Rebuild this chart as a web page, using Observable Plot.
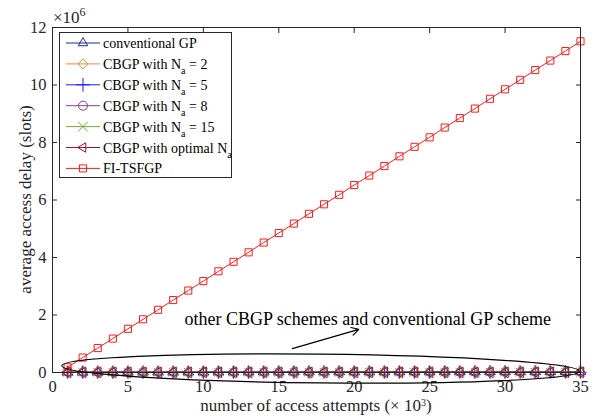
<!DOCTYPE html>
<html>
<head>
<meta charset="utf-8">
<script src="https://cdn.jsdelivr.net/npm/d3@7"></script>
<script src="https://cdn.jsdelivr.net/npm/@observablehq/plot@0.6"></script>
<style>
  body { margin: 0; background: #fff; }
  #chart svg { display: block; }
</style>
</head>
<body>
<div id="chart"></div>
<script>
// number of access attempts (× 10^3)
const attempts = [1, 2, 3, 4, 5, 6, 7, 8, 9, 10, 11, 12, 13, 14, 15, 16, 17, 18, 19, 20,
  21, 22, 23, 24, 25, 26, 27, 28, 29, 30, 31, 32, 33, 34, 35];

// average access delay (slots) per scheme
const conventionalGP = [15200, 15900, 16500, 17100, 17600, 18200, 18700, 19300, 19800, 20300,
  20900, 21400, 21900, 22500, 23000, 23500, 24100, 24600, 25100, 25700, 26200, 26700, 27300,
  27800, 28300, 28900, 29400, 29900, 30500, 31000, 31500, 32100, 32600, 33100, 33700];
const cbgpNa2 = [9100, 9200, 9300, 9350, 9400, 9500, 9550, 9600, 9700, 9750, 9800, 9900, 9950,
  10000, 10100, 10150, 10200, 10300, 10350, 10400, 10500, 10550, 10600, 10700, 10750, 10800,
  10900, 10950, 11000, 11100, 11150, 11200, 11300, 11350, 11400];
const cbgpNa5 = [6400, 6450, 6500, 6550, 6600, 6650, 6700, 6750, 6800, 6850, 6900, 6950, 7000,
  7050, 7100, 7150, 7200, 7250, 7300, 7350, 7400, 7450, 7500, 7550, 7600, 7650, 7700, 7750,
  7800, 7850, 7900, 7950, 8000, 8050, 8100];
const cbgpNa8 = [6100, 6150, 6200, 6250, 6300, 6350, 6400, 6450, 6500, 6550, 6600, 6650, 6700,
  6750, 6800, 6850, 6900, 6950, 7000, 7050, 7100, 7150, 7200, 7250, 7300, 7350, 7400, 7450,
  7500, 7550, 7600, 7650, 7700, 7750, 7800];
const cbgpNa15 = [7000, 7100, 7200, 7300, 7400, 7500, 7600, 7700, 7800, 7900, 8000, 8100, 8200,
  8300, 8400, 8500, 8600, 8700, 8800, 8900, 9000, 9100, 9200, 9300, 9400, 9500, 9600, 9700,
  9800, 9900, 10000, 10100, 10200, 10300, 10400];
const cbgpOptimal = [5600, 5620, 5640, 5660, 5680, 5700, 5720, 5740, 5760, 5780, 5800, 5820,
  5840, 5860, 5880, 5900, 5920, 5940, 5960, 5980, 6000, 6020, 6040, 6060, 6080, 6100, 6120,
  6140, 6160, 6180, 6200, 6220, 6240, 6260, 6280];
const fiTsfgp = [180000, 520000, 850000, 1180000, 1520000, 1850000, 2180000, 2520000, 2850000,
  3180000, 3520000, 3850000, 4180000, 4520000, 4850000, 5180000, 5520000, 5850000, 6180000,
  6520000, 6850000, 7180000, 7520000, 7850000, 8180000, 8520000, 8850000, 9180000, 9520000,
  9850000, 10180000, 10520000, 10850000, 11180000, 11520000];

const xTicks = [0, 5, 10, 15, 20, 25, 30, 35];
const yTicks = [0, 2e6, 4e6, 6e6, 8e6, 10e6, 12e6];

// annotation pointing at the cluster near zero
const noteLabel = "other CBGP schemes and conventional GP scheme";
const noteAt = {x: 20.9, y: 1.84e6};
const arrowFrom = {x: 15.9, y: 0.83e6};
const arrowTo = {x: 20.3, y: 1.5e6};
const ringCenter = {x: 17.8, y: 0.12e6};
const ringRadius = {x: 17.15, y: 0.5e6};

const series = [
  {name: "conventional GP", sub: null, values: conventionalGP, color: "#1d2d8c", symbol: "triangle", rotate: 0},
  {name: "CBGP with N", sub: "a", tail: " = 2", values: cbgpNa2, color: "#e8902c", symbol: "diamond", rotate: 0},
  {name: "CBGP with N", sub: "a", tail: " = 5", values: cbgpNa5, color: "#1a1aff", symbol: "plus", rotate: 0},
  {name: "CBGP with N", sub: "a", tail: " = 8", values: cbgpNa8, color: "#8a3f9c", symbol: "circle", rotate: 0},
  {name: "CBGP with N", sub: "a", tail: " = 15", values: cbgpNa15, color: "#77ac30", symbol: "times", rotate: 0},
  {name: "CBGP with optimal N", sub: "a", tail: "", values: cbgpOptimal, color: "#a2142f", symbol: "triangle", rotate: -90},
  {name: "FI-TSFGP", sub: null, values: fiTsfgp, color: "#ff1a1a", symbol: "square", rotate: 0}
];

const rowsOf = s => attempts.map((a, i) => ({attempts: a, delay: s.values[i]}));
const ink = "#262626";
const serif = "'Liberation Serif', 'DejaVu Serif', serif";

const marks = [];
for (const s of series) {
  const rows = rowsOf(s);
  marks.push(Plot.line(rows, {x: "attempts", y: "delay", stroke: s.color, strokeWidth: 1}));
  marks.push(Plot.dot(rows, {x: "attempts", y: "delay", symbol: () => s.symbol, stroke: s.color,
    fill: "none", r: 4, strokeWidth: 1, rotate: s.rotate}));
}

const plot = Plot.plot({
  width: 597,
  height: 416,
  marginLeft: 52,
  marginRight: 17,
  marginTop: 27,
  marginBottom: 44,
  style: {fontFamily: serif, fontSize: "16.5px", color: ink, background: "#fff"},
  x: {domain: [0, 35]},
  y: {domain: [0, 12e6]},
  symbol: {type: "identity"},
  marks: [
    // tick labels
    Plot.axisX(xTicks, {anchor: "bottom", tickSize: 0, tickPadding: 8, label: null, fill: ink}),
    Plot.axisY(yTicks, {anchor: "left", tickSize: 0, tickPadding: 6, tickFormat: d => d / 1e6, label: null, fill: ink}),
    // inward ticks on all four sides
    Plot.axisX(xTicks, {anchor: "bottom", tickSize: -5, tickFormat: () => "", label: null, stroke: ink}),
    Plot.axisX(xTicks, {anchor: "top", tickSize: -5, tickFormat: () => "", label: null, stroke: ink}),
    Plot.axisY(yTicks, {anchor: "left", tickSize: -5, tickFormat: () => "", label: null, stroke: ink}),
    Plot.axisY(yTicks, {anchor: "right", tickSize: -5, tickFormat: () => "", label: null, stroke: ink}),
    ...marks,
    Plot.arrow([{}], {x1: () => arrowFrom.x, y1: () => arrowFrom.y, x2: () => arrowTo.x, y2: () => arrowTo.y,
      stroke: "#000", strokeWidth: 1.2, headLength: 10}),
    Plot.text([noteLabel], {x: () => noteAt.x, y: () => noteAt.y, text: d => d, fontSize: 18, fill: "#000"}),
    Plot.frame({stroke: ink, strokeWidth: 1})
  ]
});

document.getElementById("chart").appendChild(plot);

const svg = d3.select(plot);
const sx = plot.scale("x"), sy = plot.scale("y");

// ellipse around the near-zero schemes
const cx = sx.apply(ringCenter.x), cy = sy.apply(ringCenter.y);
const rx = sx.apply(ringCenter.x + ringRadius.x) - cx;
const ry = cy - sy.apply(ringCenter.y + ringRadius.y);
svg.append("ellipse")
  .attr("cx", cx).attr("cy", cy).attr("rx", rx).attr("ry", ry)
  .attr("transform", `rotate(0.6 ${cx} ${cy})`)
  .attr("fill", "none").attr("stroke", "#000").attr("stroke-width", 1.2);

// exponent above the y axis
const expo = svg.append("text").attr("x", 53).attr("y", 23).attr("text-anchor", "start")
  .attr("font-family", serif).attr("font-size", 17).attr("fill", ink);
expo.append("tspan").text("×10");
expo.append("tspan").attr("dy", -7).attr("font-size", 12).text("6");

// axis titles
svg.append("text")
  .attr("transform", `translate(31,${(27 + 372) / 2}) rotate(-90)`)
  .attr("text-anchor", "middle").attr("font-family", serif).attr("font-size", 17).attr("fill", ink)
  .text("average access delay (slots)");
const xt = svg.append("text").attr("x", 316).attr("y", 411)
  .attr("text-anchor", "middle").attr("font-family", serif).attr("font-size", 17).attr("fill", ink);
xt.append("tspan").text("number of access attempts (× 10");
xt.append("tspan").attr("dy", -5).attr("font-size", 10).text("3");
xt.append("tspan").attr("dy", 5).text(")");

// legend
const symbolTypes = {
  triangle: d3.symbolTriangle2, diamond: d3.symbolDiamond2, plus: d3.symbolPlus,
  circle: d3.symbolCircle, times: d3.symbolTimes, square: d3.symbolSquare2
};
const lg = svg.append("g");
lg.append("rect").attr("x", 59.5).attr("y", 32.5).attr("width", 172).attr("height", 145)
  .attr("fill", "#fff").attr("stroke", ink).attr("stroke-width", 1);
series.forEach((s, i) => {
  const y = 43 + i * 20.9;
  lg.append("line").attr("x1", 66).attr("x2", 100).attr("y1", y).attr("y2", y)
    .attr("stroke", s.color).attr("stroke-width", 1);
  lg.append("path")
    .attr("d", d3.symbol(symbolTypes[s.symbol], Math.PI * 4.5 * 4.5)())
    .attr("transform", `translate(83,${y}) rotate(${s.rotate})`)
    .attr("fill", "none").attr("stroke", s.color).attr("stroke-width", 1);
  const t = lg.append("text").attr("x", 103).attr("y", y + 5).attr("text-anchor", "start")
    .attr("font-family", serif).attr("font-size", 14).attr("fill", "#000");
  t.append("tspan").text(s.name);
  if (s.sub) {
    t.append("tspan").attr("dy", 5).attr("font-size", 10).text(s.sub);
    if (s.tail) t.append("tspan").attr("dy", -5).text(s.tail);
  }
});
</script>
</body>
</html>
